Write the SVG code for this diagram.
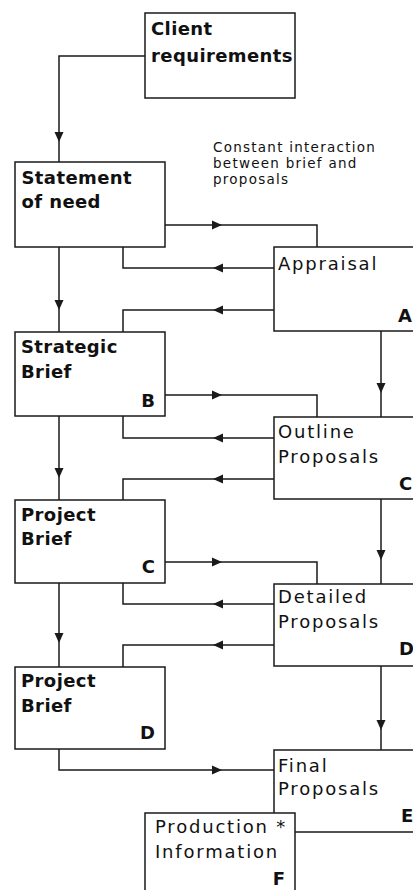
<svg xmlns="http://www.w3.org/2000/svg" xmlns:xlink="http://www.w3.org/1999/xlink" width="413" height="890" viewBox="0 0 413 890">
<style>
.box{fill:#fff;stroke:#1a1a1a;stroke-width:1.5}
.ln{fill:none;stroke:#1a1a1a;stroke-width:1.5}
.b{font-family:"DejaVu Sans",sans-serif;font-weight:bold;font-size:18px;letter-spacing:0.4px;fill:#111}
.r{font-family:"DejaVu Sans",sans-serif;font-size:18px;letter-spacing:1.8px;fill:#111}
.s{font-family:"DejaVu Sans",sans-serif;font-size:13.5px;letter-spacing:1.25px;fill:#111}
.k{font-family:"DejaVu Sans",sans-serif;font-weight:bold;font-size:18px;fill:#111}
.ah{fill:#1a1a1a}
</style>
<defs>
<path id="ah" class="ah" d="M0,0 L-10,-4.5 L-10,4.5 Z"/>
</defs>
<rect width="413" height="890" fill="#fff"/>
<g id="connectors">
<path class="ln" d="M145,56 H59 V162"/>
<path class="ln" d="M165,225 H317 V247"/>
<path class="ln" d="M274,268 H123 V247"/>
<path class="ln" d="M59,247 V332"/>
<path class="ln" d="M274,310 H123 V332"/>
<path class="ln" d="M165,395 H317 V417"/>
<path class="ln" d="M381,331 V417"/>
<path class="ln" d="M274,438 H123 V416"/>
<path class="ln" d="M274,479 H123 V500"/>
<path class="ln" d="M59,416 V500"/>
<path class="ln" d="M165,562 H317 V584"/>
<path class="ln" d="M381,499 V584"/>
<path class="ln" d="M274,604 H123 V583"/>
<path class="ln" d="M274,645 H123 V667"/>
<path class="ln" d="M59,583 V667"/>
<path class="ln" d="M59,749 V770 H274"/>
<path class="ln" d="M381,666 V750"/>
<use xlink:href="#ah" transform="translate(59,142) rotate(90)"/>
<use xlink:href="#ah" transform="translate(59,310) rotate(90)"/>
<use xlink:href="#ah" transform="translate(59,478) rotate(90)"/>
<use xlink:href="#ah" transform="translate(59,643) rotate(90)"/>
<use xlink:href="#ah" transform="translate(381,393) rotate(90)"/>
<use xlink:href="#ah" transform="translate(381,560) rotate(90)"/>
<use xlink:href="#ah" transform="translate(381,730) rotate(90)"/>
<use xlink:href="#ah" transform="translate(222,225)"/>
<use xlink:href="#ah" transform="translate(222,395)"/>
<use xlink:href="#ah" transform="translate(222,562)"/>
<use xlink:href="#ah" transform="translate(222,770)"/>
<use xlink:href="#ah" transform="translate(213,268) rotate(180)"/>
<use xlink:href="#ah" transform="translate(213,310) rotate(180)"/>
<use xlink:href="#ah" transform="translate(213,438) rotate(180)"/>
<use xlink:href="#ah" transform="translate(213,479) rotate(180)"/>
<use xlink:href="#ah" transform="translate(213,604) rotate(180)"/>
<use xlink:href="#ah" transform="translate(213,645) rotate(180)"/>
</g>
<g id="note">
<text class="s" x="213" y="152">Constant interaction</text>
<text class="s" x="213" y="168">between brief and</text>
<text class="s" x="213" y="184">proposals</text>
</g>
<g id="client">
<rect class="box" x="145" y="13" width="150" height="85"/>
<text class="b" x="151" y="35">Client</text>
<text class="b" x="151" y="62">requirements</text>
</g>
<g id="statement">
<rect class="box" x="15" y="162" width="150" height="85"/>
<text class="b" x="21.5" y="184">Statement</text>
<text class="b" x="21.5" y="208">of need</text>
</g>
<g id="strategic">
<rect class="box" x="15" y="332" width="150" height="84"/>
<text class="b" x="21" y="353">Strategic</text>
<text class="b" x="21" y="378">Brief</text>
<text class="k" x="155" y="407" text-anchor="end">B</text>
</g>
<g id="projectC">
<rect class="box" x="15" y="500" width="150" height="83"/>
<text class="b" x="21" y="521">Project</text>
<text class="b" x="21" y="545">Brief</text>
<text class="k" x="155" y="573" text-anchor="end">C</text>
</g>
<g id="projectD">
<rect class="box" x="15" y="667" width="150" height="82"/>
<text class="b" x="21" y="687">Project</text>
<text class="b" x="21" y="712">Brief</text>
<text class="k" x="155" y="739" text-anchor="end">D</text>
</g>
<g id="appraisal">
<rect class="box" x="274" y="247" width="160" height="84"/>
<text class="r" x="278" y="270">Appraisal</text>
<text class="k" x="398" y="322">A</text>
</g>
<g id="outline">
<rect class="box" x="274" y="417" width="160" height="82"/>
<text class="r" x="278" y="438">Outline</text>
<text class="r" x="278" y="463">Proposals</text>
<text class="k" x="399" y="490">C</text>
</g>
<g id="detailed">
<rect class="box" x="274" y="584" width="160" height="82"/>
<text class="r" x="278" y="603">Detailed</text>
<text class="r" x="278" y="628">Proposals</text>
<text class="k" x="399" y="655">D</text>
</g>
<g id="final">
<rect class="box" x="274" y="750" width="160" height="82"/>
<text class="r" x="278" y="772">Final</text>
<text class="r" x="278" y="795">Proposals</text>
<text class="k" x="401" y="822">E</text>
</g>
<g id="production">
<rect class="box" x="145" y="813" width="150" height="100"/>
<text class="r" x="155" y="833">Production *</text>
<text class="r" x="155" y="858">Information</text>
<text class="k" x="285" y="885" text-anchor="end">F</text>
</g>
</svg>
